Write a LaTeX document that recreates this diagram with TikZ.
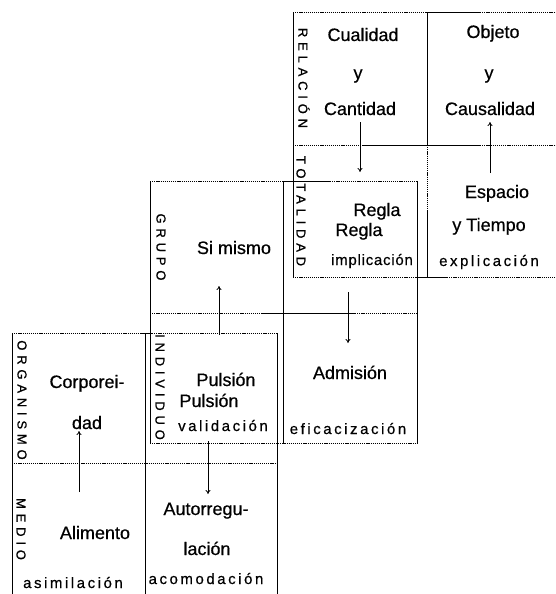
\documentclass[tikz,border=0pt]{standalone}
\usepackage{fontspec}
\setmainfont[FakeBold=0.5]{Liberation Sans}
\newfontfamily\smallspaced[LetterSpace=17,FakeBold=0.5]{Liberation Sans}
\newfontfamily\smallnarrow[LetterSpace=5,FakeBold=0.5]{Liberation Sans}
\newfontfamily\vertspaced[LetterSpace=37,FakeBold=0.8]{Liberation Sans}
\usetikzlibrary{arrows.meta}
\begin{document}
\begin{tikzpicture}[x=1pt,y=-1pt,
  big/.style={font=\fontsize{18}{20}\selectfont, inner sep=0pt, anchor=base},
  sm/.style={font=\smallspaced\fontsize{15}{17}\selectfont, inner sep=0pt, anchor=base},
  smn/.style={font=\smallnarrow\fontsize{15}{17}\selectfont, inner sep=0pt, anchor=base},
  vl/.style={font=\vertspaced\fontsize{13}{15}\selectfont, inner sep=0pt, rotate=-90, anchor=center},
  sl/.style={line width=1pt},
  dl/.style={line width=1pt, dash pattern=on 1.2pt off 0.9pt},
  arr/.style={line width=0.8pt, -{To[length=4pt,width=5pt]}}]
\useasboundingbox (0,0) rectangle (556,594);
\fill[white] (0,0) rectangle (556,594);

% ---------- Block C (top right) ----------
\draw[dl] (293,13) -- (427,13);
\draw[sl] (427,13) -- (480,13);
\draw[dl] (480,13) -- (556,13);
\draw[sl] (293,13) -- (293,277);
\draw[sl] (427,13) -- (427,145);
\draw[dl] (427,145) -- (427,210);
\draw[sl] (427,210) -- (427,277);
\draw[dl] (293,145) -- (363,145);
\draw[sl] (363,145) -- (480,145);
\draw[dl] (480,145) -- (556,145);
\draw[dl] (293,277) -- (416,277);
\draw[sl] (416,277) -- (447,277);
\draw[dl] (447,277) -- (556,277);

% ---------- Block B (middle) ----------
\draw[dl] (150,181) -- (283,181);
\draw[sl] (283,181) -- (330,181);
\draw[dl] (330,181) -- (417,181);
\draw[sl] (150,181) -- (150,443);
\draw[sl] (283,181) -- (283,443);
\draw[sl] (417,181) -- (417,443);
\draw[dl] (150,313) -- (265,313);
\draw[sl] (265,313) -- (355,313);
\draw[dl] (355,313) -- (417,313);
\draw[dl] (150,443) -- (417,443);

% ---------- Block A (bottom left) ----------
\draw[dl] (12,333) -- (140,333);
\draw[sl] (140,333) -- (152,333);
\draw[dl] (152,333) -- (277,333);
\draw[sl] (12,333) -- (12,594);
\draw[sl] (145,333) -- (145,594);
\draw[sl] (277,333) -- (277,594);
\draw[dl] (12,463) -- (277,463);

% ---------- Texts, block C ----------
\node[vl] (relacion) at (304,78) {RELACIÓN};
\node[big] (cualidad) at (363,41) {Cualidad};
\node[big] (yc1) at (358,79) {y};
\node[big] (cantidad) at (360,115) {Cantidad};
\node[big] (objeto) at (493,38) {Objeto};
\node[big] (yc2) at (489,79) {y};
\node[big] (causalidad) at (490,115) {Causalidad};
\node[vl] (totalidad) at (301,211) {TOTALIDAD};
\node[big] (regla1) at (377,216) {Regla};
\node[big] (regla2) at (359,236) {Regla};
\node[smn] (implicacion) at (372,265) {implicación};
\node[big] (espacio) at (497,198) {Espacio};
\node[big] (tiempo) at (489,231) {y Tiempo};
\node[sm] (explicacion) at (489,266) {explicación};

% ---------- Texts, block B ----------
\node[vl] (grupo) at (161,247) {GRUPO};
\node[big] (simismo) at (234,254) {Si mismo};
\node[vl] (individuo) at (160,387) {INDIVIDUO};
\node[big] (pulsion1) at (226,386) {Pulsión};
\node[big] (pulsion2) at (209,407) {Pulsión};
\node[sm] (validacion) at (223,431) {validación};
\node[big] (admision) at (350,379) {Admisión};
\node[sm] (eficacizacion) at (348,434) {eficacización};

% ---------- Texts, block A ----------
\node[vl] (organismo) at (22,400) {ORGANISMO};
\node[big] (corporei) at (87,388) {Corporei-};
\node[big] (dad) at (87,429) {dad};
\node[vl] (medio) at (21,529) {MEDIO};
\node[big] (alimento) at (95,539) {Alimento};
\node[sm] (asimilacion) at (73,588) {asimilación};
\node[big] (autorregu) at (206,515) {Autorregu-};
\node[big] (lacion) at (207,555) {lación};
\node[sm] (acomodacion) at (206,584) {acomodación};

% ---------- Arrows ----------
\coordinate (a1s) at (360,122); \coordinate (a1e) at (360,172);
\coordinate (a2s) at (490,173); \coordinate (a2e) at (490,122);
\coordinate (a3s) at (219,335); \coordinate (a3e) at (219,286);
\coordinate (a4s) at (348,292); \coordinate (a4e) at (348,343);
\coordinate (a5s) at (79,492);  \coordinate (a5e) at (79,431);
\coordinate (a6s) at (208,441); \coordinate (a6e) at (208,494);
\draw[arr] (a1s) -- (a1e);
\draw[arr] (a2s) -- (a2e);
\draw[arr] (a3s) -- (a3e);
\draw[arr] (a4s) -- (a4e);
\draw[arr] (a5s) -- (a5e);
\draw[arr] (a6s) -- (a6e);
\end{tikzpicture}
\end{document}
